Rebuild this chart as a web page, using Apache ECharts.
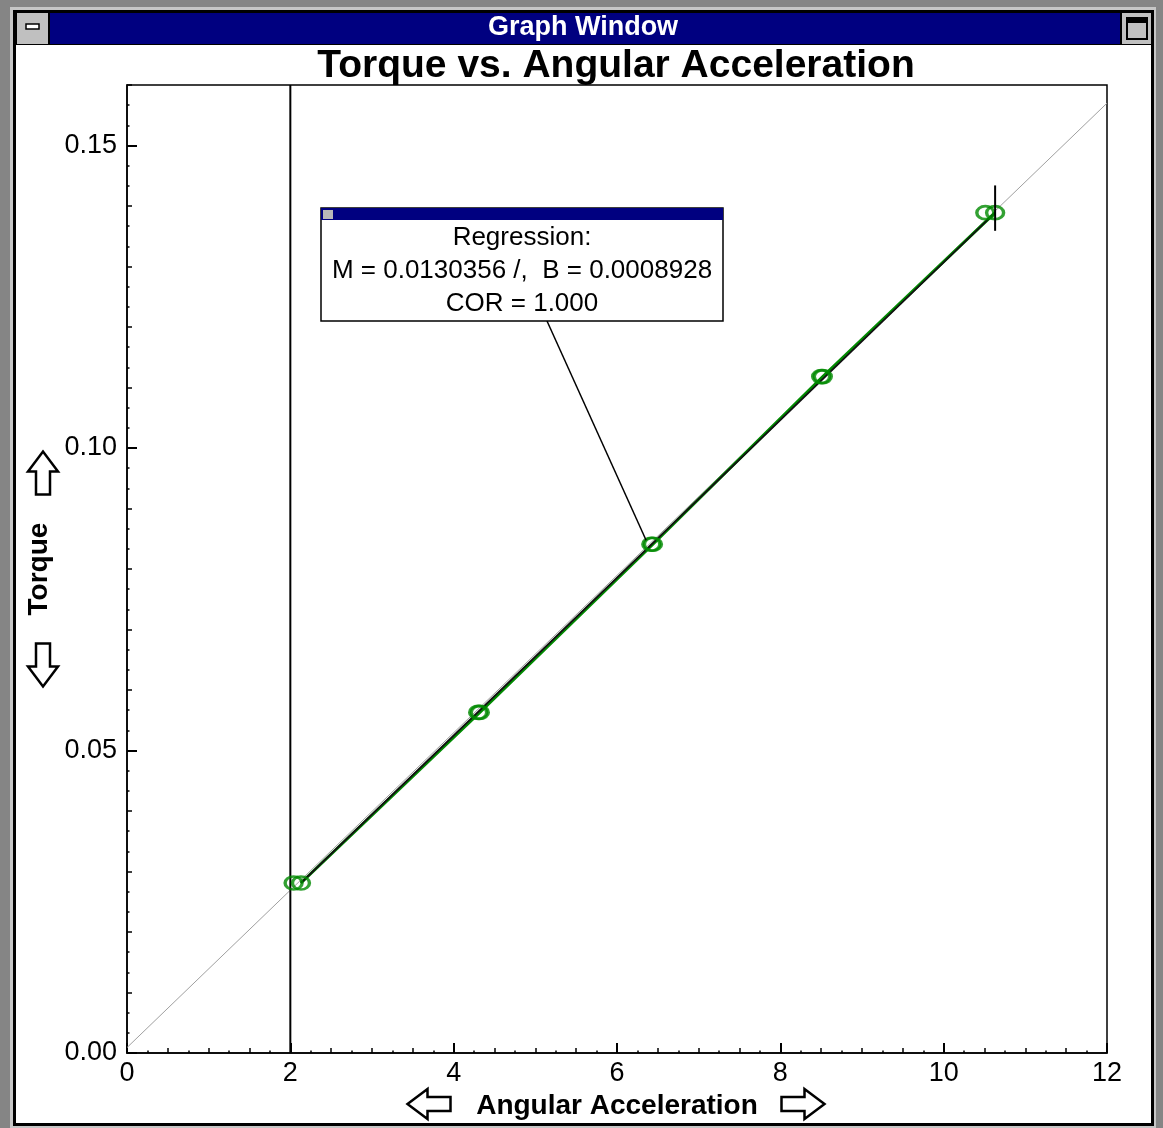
<!DOCTYPE html>
<html><head><meta charset="utf-8">
<script src="https://cdn.jsdelivr.net/npm/echarts@6/dist/echarts.min.js"></script>
<style>html,body{margin:0;padding:0;background:#fff}#c{width:1163px;height:1128px}</style>
</head><body><div id="c"></div><script>
// ---- data ----
const windowTitle = 'Graph Window';
const chartTitle = 'Torque vs. Angular Acceleration';
const xName = 'Angular Acceleration';
const yName = 'Torque';
const xTickLabels = [0, 2, 4, 6, 8, 10, 12];
const yTickLabels = [0.00, 0.05, 0.10, 0.15];
// two overlapping marker sets (each measured point drawn twice, slightly offset)
const runA = [[2.04, 0.0281], [4.30, 0.0563], [6.42, 0.0841], [8.50, 0.1118], [10.51, 0.1389]];
const runB = [[2.13, 0.0281], [4.32, 0.0563], [6.44, 0.0841], [8.52, 0.1118], [10.63, 0.1389]];
// regression line as drawn (full range, grey) and over the data span (black)
const fitFull = [[0, 0.0009], [12, 0.157]];
const fitSpan = [[2.13, 0.0281], [10.63, 0.1389]];
const cursorLine = [[2, 0], [2, 0.16]];
const cursorMark = [[10.63, 0.1359], [10.63, 0.1434]];
const regressionLines = ['Regression:', 'M = 0.0130356 /,  B = 0.0008928', 'COR = 1.000'];
const calloutTarget = [6.43, 0.0841];

const chart = echarts.init(document.getElementById('c'), null, {renderer: 'canvas'});
const green = '#008a00';
const F = 'Liberation Sans, Arial, sans-serif';
const markerStyle = {color: 'rgba(0,0,0,0)', borderColor: green, borderWidth: 3};

const option = {
  animation: false,
  backgroundColor: '#fff',
  title: {
    text: chartTitle, left: 616, top: 47, textAlign: 'center', padding: 0,
    textStyle: {fontFamily: F, fontSize: 39, fontWeight: 'bold', color: '#000'}
  },
  grid: {left: 127, top: 85, right: 56, bottom: 75, show: true, borderColor: '#000', borderWidth: 1.5,
    backgroundColor: 'rgba(0,0,0,0)', containLabel: false, outerBoundsMode: 'none'},
  xAxis: [
    {
      type: 'value', min: 0, max: 12, interval: 2,
      axisLine: {show: true, onZero: false, lineStyle: {color: '#000', width: 1.5}},
      axisTick: {show: true, inside: true, length: 10, lineStyle: {color: '#000', width: 2}},
      axisLabel: {fontFamily: F, fontSize: 27, color: '#000', margin: 7,
        formatter: v => xTickLabels.indexOf(v) >= 0 ? String(v) : ''},
      splitLine: {show: false},
      name: xName, nameLocation: 'middle', nameGap: 36,
      nameTextStyle: {fontFamily: F, fontSize: 28, fontWeight: 'bold', color: '#000'}
    },
    {
      type: 'value', min: 0, max: 12, interval: 0.5, position: 'bottom',
      axisLine: {show: false, onZero: false},
      axisTick: {show: true, inside: true, length: 5, lineStyle: {color: '#000', width: 1.5}},
      minorTick: {show: true, splitNumber: 2, length: 2.5, lineStyle: {color: '#000', width: 1.5}},
      axisLabel: {show: false}, splitLine: {show: false}, minorSplitLine: {show: false}
    }
  ],
  yAxis: [
    {
      type: 'value', min: 0, max: 0.16, interval: 0.05,
      axisLine: {show: true, onZero: false, lineStyle: {color: '#000', width: 1.5}},
      axisTick: {show: true, inside: true, length: 10, lineStyle: {color: '#000', width: 2}},
      axisLabel: {fontFamily: F, fontSize: 27, color: '#000', margin: 10, showMaxLabel: false,
        formatter: v => {
          const hit = yTickLabels.find(t => Math.abs(t - v) < 1e-9);
          return hit === undefined ? '' : hit.toFixed(2);
        }},
      splitLine: {show: false},
      name: yName, nameLocation: 'middle', nameGap: 70, nameRotate: 90,
      nameTextStyle: {fontFamily: F, fontSize: 28, fontWeight: 'bold', color: '#000'}
    },
    {
      type: 'value', min: 0, max: 0.16, interval: 0.01, position: 'left',
      axisLine: {show: false, onZero: false},
      axisTick: {show: true, inside: true, length: 5, lineStyle: {color: '#000', width: 1.5}},
      minorTick: {show: true, splitNumber: 3, length: 2.5, lineStyle: {color: '#000', width: 1.5}},
      axisLabel: {show: false}, splitLine: {show: false}, minorSplitLine: {show: false}
    }
  ],
  series: [
    {type: 'line', data: fitFull, showSymbol: false, silent: true, z: 1,
      lineStyle: {color: '#a0a0a0', width: 1}},
    {type: 'line', data: cursorLine, showSymbol: false, silent: true, z: 2,
      lineStyle: {color: '#000', width: 2}},
    {type: 'line', data: runB, showSymbol: false, silent: true, z: 2,
      lineStyle: {color: green, width: 3}},
    {type: 'line', data: fitSpan, showSymbol: false, silent: true, z: 3,
      lineStyle: {color: '#111', width: 1.8}},
    {type: 'scatter', data: runA, symbol: 'circle', symbolSize: [17, 13], z: 4, itemStyle: markerStyle},
    {type: 'scatter', data: runB, symbol: 'circle', symbolSize: [17, 13], z: 4, itemStyle: markerStyle},
    {type: 'line', data: cursorMark, showSymbol: false, silent: true, z: 5,
      lineStyle: {color: '#000', width: 2}}
  ]
};
chart.setOption(option);

// outlined block arrows beside the axis names
function arrowPts(cx, cy, dir) {
  const L = 43, H = 20, W = 30, S = 14;
  const base = [[-L/2, -S/2], [L/2 - H, -S/2], [L/2 - H, -W/2], [L/2, 0], [L/2 - H, W/2], [L/2 - H, S/2], [-L/2, S/2]];
  const rot = {right: [1, 0, 0, 1], left: [-1, 0, 0, 1], up: [0, 1, -1, 0], down: [0, 1, 1, 0]}[dir];
  return base.map(([x, y]) => [cx + rot[0] * x + rot[1] * y, cy + rot[2] * x + rot[3] * y]);
}
function arrow(cx, cy, dir) {
  return {type: 'polygon', z: 60, silent: true, shape: {points: arrowPts(cx, cy, dir)},
    style: {fill: '#fff', stroke: '#000', lineWidth: 2.5, lineJoin: 'miter'}};
}

// window chrome + regression callout
const tp = chart.convertToPixel({gridIndex: 0}, calloutTarget);
const box = {x: 321, y: 208, w: 402, h: 113};
const tf = '26px Liberation Sans, Arial, sans-serif';
chart.setOption({
  graphic: [
    {type: 'rect', z: -30, silent: true, shape: {x: 0, y: 0, width: 1163, height: 1128}, style: {fill: '#858585'}},
    {type: 'rect', z: -29, silent: true, shape: {x: 10, y: 7, width: 1146, height: 1121}, style: {fill: '#c6c6c6'}},
    {type: 'rect', z: -28, silent: true, shape: {x: 13, y: 10, width: 1141, height: 1116}, style: {fill: '#000'}},
    {type: 'rect', z: -27, silent: true, shape: {x: 16, y: 12, width: 1135, height: 1111}, style: {fill: '#fff'}},
    {type: 'rect', z: -26, silent: true, shape: {x: 16, y: 12, width: 1135, height: 33}, style: {fill: '#000'}},
    {type: 'rect', z: -25, silent: true, shape: {x: 50, y: 13, width: 1070, height: 31}, style: {fill: '#000080'}},
    {type: 'rect', z: -25, silent: true, shape: {x: 17, y: 13, width: 31, height: 31}, style: {fill: '#c0c0c0'}},
    {type: 'rect', z: -24, silent: true, shape: {x: 26, y: 24, width: 13, height: 5}, style: {fill: '#fff', stroke: '#000', lineWidth: 1.5}},
    {type: 'rect', z: -25, silent: true, shape: {x: 1122, y: 13, width: 29, height: 31}, style: {fill: '#c0c0c0'}},
    {type: 'rect', z: -24, silent: true, shape: {x: 1127, y: 18, width: 20, height: 21}, style: {fill: '#c0c0c0', stroke: '#000', lineWidth: 2}},
    {type: 'rect', z: -24, silent: true, shape: {x: 1127, y: 18, width: 20, height: 5}, style: {fill: '#000'}},
    {type: 'text', z: -24, silent: true, x: 583, y: 28,
      style: {text: windowTitle, fill: '#fff', font: 'bold 27px Liberation Sans, Arial, sans-serif', align: 'center', verticalAlign: 'middle'}},
    arrow(429, 1104, 'left'), arrow(803, 1104, 'right'),
    arrow(43, 473, 'up'), arrow(43, 665, 'down'),
    // callout
    {type: 'line', z: 50, silent: true, shape: {x1: 547, y1: box.y + box.h, x2: tp[0] - 6, y2: tp[1] - 4}, style: {stroke: '#000', lineWidth: 1.5}},
    {type: 'rect', z: 51, silent: true, shape: {x: box.x, y: box.y, width: box.w, height: box.h}, style: {fill: '#fff', stroke: '#000', lineWidth: 1.5}},
    {type: 'rect', z: 52, silent: true, shape: {x: box.x, y: box.y, width: box.w, height: 12}, style: {fill: '#000080'}},
    {type: 'rect', z: 53, silent: true, shape: {x: box.x + 2, y: box.y + 2, width: 10, height: 9}, style: {fill: '#b8b8b8'}},
    {type: 'text', z: 53, silent: true, x: box.x + box.w / 2, y: box.y + 30,
      style: {text: regressionLines[0], fill: '#000', font: tf, align: 'center', verticalAlign: 'middle'}},
    {type: 'text', z: 53, silent: true, x: box.x + box.w / 2, y: box.y + 63,
      style: {text: regressionLines[1], fill: '#000', font: tf, align: 'center', verticalAlign: 'middle'}},
    {type: 'text', z: 53, silent: true, x: box.x + box.w / 2, y: box.y + 96,
      style: {text: regressionLines[2], fill: '#000', font: tf, align: 'center', verticalAlign: 'middle'}}
  ]
});
</script></body></html>
